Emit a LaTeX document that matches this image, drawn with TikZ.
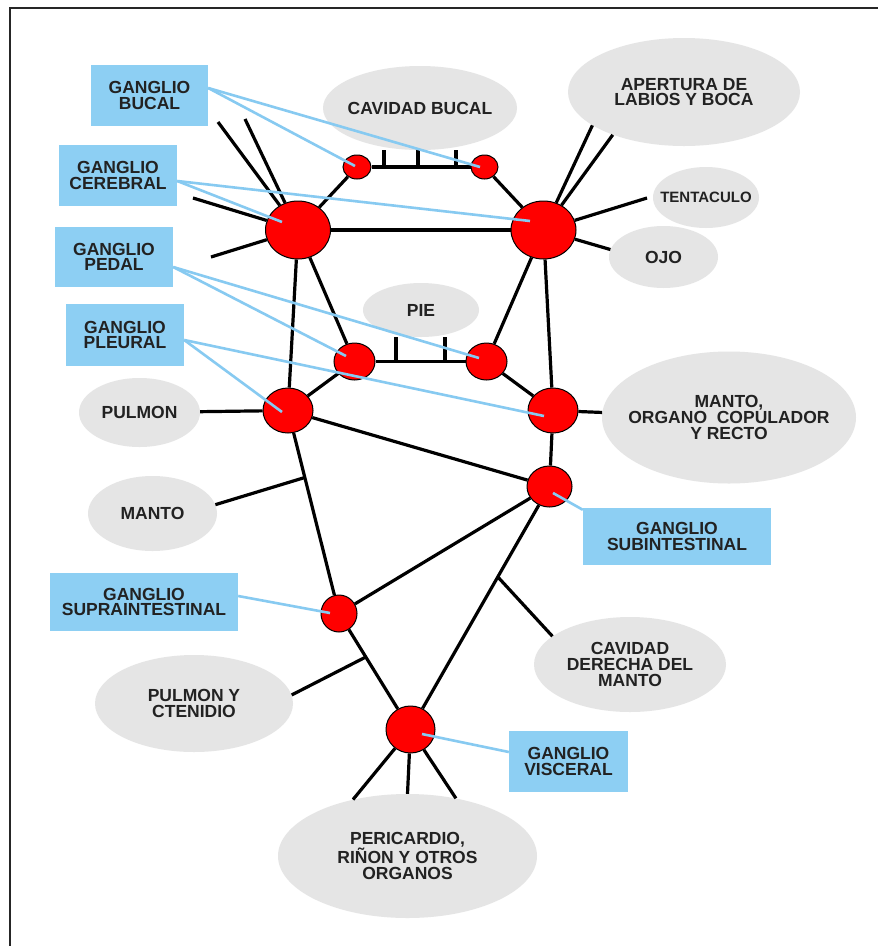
\documentclass[tikz,border=0pt]{standalone}
\usepackage{fontspec}
\setmainfont{Liberation Sans}
\usetikzlibrary{shapes.geometric,calc}
\definecolor{gris}{RGB}{229,229,229}
\definecolor{azul}{RGB}{141,207,243}
\definecolor{azulln}{RGB}{135,202,241}
\definecolor{txt}{RGB}{34,34,34}
\begin{document}
\begin{tikzpicture}[x=1pt,y=-1pt,
  lbl/.style={font=\fontsize{17.5}{15.7}\selectfont\bfseries, text=txt, align=center},
  organ/.style={lbl, ellipse, fill=gris, inner xsep=-60pt, inner ysep=-20pt},
  gbox/.style={lbl, rectangle, fill=azul, inner sep=0pt},
  gang/.style={ellipse, fill=red, draw=black, line width=1pt, inner sep=0pt},
  nerve/.style={line width=3.2pt, black},
  pointer/.style={line width=2.6pt, azulln},
]
\fill[white] (0,0) rectangle (878,946);
\useasboundingbox (0,0) rectangle (878,946);
\draw[line width=2pt, black!85] (9.5,946) -- (9.5,8) -- (878,8);

% organ ellipses
\node[organ, minimum width=194pt, minimum height=84pt] (cavb) at (420,108) {CAVIDAD BUCAL};
\node[organ, minimum width=232pt, minimum height=108pt] (apert) at (684,92) {APERTURA DE\\LABIOS Y BOCA};
\node[organ, minimum width=106pt, minimum height=61pt, font=\fontsize{15}{15}\selectfont\bfseries] (tent) at (706,197.5) {TENTACULO};
\node[organ, minimum width=109pt, minimum height=62pt] (ojo) at (663.5,257) {OJO};
\node[organ, minimum width=116pt, minimum height=54pt] (pie) at (421,310) {PIE};
\node[organ, minimum width=254pt, minimum height=132pt] (morg) at (729,417.5) {MANTO,\\ORGANO~~COPULADOR\\Y RECTO};
\node[organ, minimum width=121pt, minimum height=69pt] (pulmon) at (139.5,412.5) {PULMON};
\node[organ, minimum width=129pt, minimum height=75pt] (manto) at (152.5,513.5) {MANTO};
\node[organ, minimum width=198pt, minimum height=97pt] (pulmc) at (194,703.5) {PULMON Y\\CTENIDIO};
\node[organ, minimum width=192pt, minimum height=95pt] (cavder) at (630,664.5) {CAVIDAD\\DERECHA DEL\\MANTO};
\node[organ, minimum width=259pt, minimum height=124pt] (peric) at (407.5,856) {PERICARDIO,\\RIÑON Y OTROS\\ORGANOS};

% label boxes
\node[gbox, minimum width=117pt, minimum height=61pt] (bB) at (149.5,95.5) {GANGLIO\\BUCAL};
\node[gbox, minimum width=118pt, minimum height=61pt] (bC) at (118,175.5) {GANGLIO\\CEREBRAL};
\node[gbox, minimum width=118pt, minimum height=60pt] (bPd) at (114,257) {GANGLIO\\PEDAL};
\node[gbox, minimum width=118pt, minimum height=62pt] (bPl) at (125,335) {GANGLIO\\PLEURAL};
\node[gbox, minimum width=188pt, minimum height=57pt] (bSub) at (677,536.5) {GANGLIO\\SUBINTESTINAL};
\node[gbox, minimum width=188pt, minimum height=58pt] (bSup) at (144,602) {GANGLIO\\SUPRAINTESTINAL};
\node[gbox, minimum width=119pt, minimum height=61pt] (bVis) at (568.5,761.5) {GANGLIO\\VISCERAL};

% ganglia
\node[gang, minimum width=28pt, minimum height=24pt] (bucL) at (357,167) {};
\node[gang, minimum width=27pt, minimum height=24pt] (bucR) at (484.5,167) {};
\node[gang, minimum width=65pt, minimum height=58pt] (cerL) at (298,230) {};
\node[gang, minimum width=65pt, minimum height=58pt] (cerR) at (543.5,230) {};
\node[gang, minimum width=41pt, minimum height=37pt] (pedL) at (354.5,361.5) {};
\node[gang, minimum width=41pt, minimum height=37pt] (pedR) at (486.5,361.5) {};
\node[gang, minimum width=50pt, minimum height=45pt] (pleL) at (288,410.5) {};
\node[gang, minimum width=50pt, minimum height=45pt] (pleR) at (553,410.5) {};
\node[gang, minimum width=45pt, minimum height=41pt] (sub) at (549.5,486.5) {};
\node[gang, minimum width=36pt, minimum height=37pt] (sup) at (339,613.5) {};
\node[gang, minimum width=49pt, minimum height=47pt] (vis) at (410.5,729.5) {};

% free ends of nerves
\coordinate (cl1) at (218,122);
\coordinate (cl2) at (245,119);
\coordinate (cl3) at (193,198);
\coordinate (cl4) at (211,257);
\coordinate (ct) at (647,198);
\coordinate (sb1) at (384,167);
\coordinate (sb2) at (418,167);
\coordinate (sb3) at (456,167);
\coordinate (sp1) at (396,361.5);
\coordinate (sp2) at (445,361.5);
\coordinate (brM) at ($(pleL)!0.33!(sup)$);
\coordinate (brP) at ($(sup)!0.375!(vis)$);
\coordinate (brC) at ($(sub)!0.372!(vis)$);

% nerves
\draw[nerve] (bucL) -- (bucR);
\draw[nerve] (bucL) -- (cerL);
\draw[nerve] (bucR) -- (cerR);
\draw[nerve] (cerL) -- (cerR);
\draw[nerve] (cerL) -- (pedL);
\draw[nerve] (cerR) -- (pedR);
\draw[nerve] (cerL) -- (pleL);
\draw[nerve] (cerR) -- (pleR);
\draw[nerve] (pedL) -- (pedR);
\draw[nerve] (pedL) -- (pleL);
\draw[nerve] (pedR) -- (pleR);
\draw[nerve] (pleL) -- (pulmon);
\draw[nerve] (pleR) -- (morg);
\draw[nerve] (pleL) -- (sub);
\draw[nerve] (pleR) -- (sub);
\draw[nerve] (pleL) -- (sup);
\draw[nerve] (sup) -- (sub);
\draw[nerve] (sup) -- (vis);
\draw[nerve] (sub) -- (vis);
\draw[nerve] (cerL) -- (cl1);
\draw[nerve] (cerL) -- (cl2);
\draw[nerve] (cerL) -- (cl3);
\draw[nerve] (cerL) -- (cl4);
\draw[nerve] (cerR) -- (apert.200);
\draw[nerve] (cerR) -- (apert.211);
\draw[nerve] (cerR) -- (ct);
\draw[nerve] (cerR) -- (ojo.172);
\draw[nerve] (sb1) -- (sb1 |- cavb.south);
\draw[nerve] (sb2) -- (sb2 |- cavb.south);
\draw[nerve] (sb3) -- (sb3 |- cavb.south);
\draw[nerve] (sp1) -- (sp1 |- pie.south);
\draw[nerve] (sp2) -- (sp2 |- pie.south);
\draw[nerve] (brM) -- (manto.8);
\draw[nerve] (brP) -- (pulmc.5);
\draw[nerve] (brC) -- (cavder.160);
\draw[nerve] (vis) -- (peric.134);
\draw[nerve] (vis) -- (peric.90);
\draw[nerve] (vis) -- (peric.50);

% pointers
\draw[pointer] ([yshift=7.5pt]bB.east) -- ($(bucL)+(-2,-1)$);
\draw[pointer] ([yshift=7.5pt]bB.east) -- ($(bucR)+(-4.5,0)$);
\draw[pointer] ([yshift=-5.5pt]bC.east) -- ($(cerL)+(-16,-8)$);
\draw[pointer] ([yshift=-5.5pt]bC.east) -- ($(cerR)+(-13.5,-9)$);
\draw[pointer] ([yshift=-10pt]bPd.east) -- ($(pedL)+(-8.5,-5.5)$);
\draw[pointer] ([yshift=-10pt]bPd.east) -- ($(pedR)+(-7.5,-3.5)$);
\draw[pointer] ([yshift=-5pt]bPl.east) -- ($(pleL)+(-6,1.5)$);
\draw[pointer] ([yshift=-5pt]bPl.east) -- ($(pleR)+(-9,5.5)$);
\draw[pointer] ([yshift=-2pt]bSub.north west) -- ($(sub)+(3.5,6.5)$);
\draw[pointer] ([yshift=6pt]bSup.east) -- ($(sup)+(-9,-0.5)$);
\draw[pointer] ([yshift=9.5pt]bVis.west) -- ($(vis)+(11.5,4.5)$);
\end{tikzpicture}
\end{document}
